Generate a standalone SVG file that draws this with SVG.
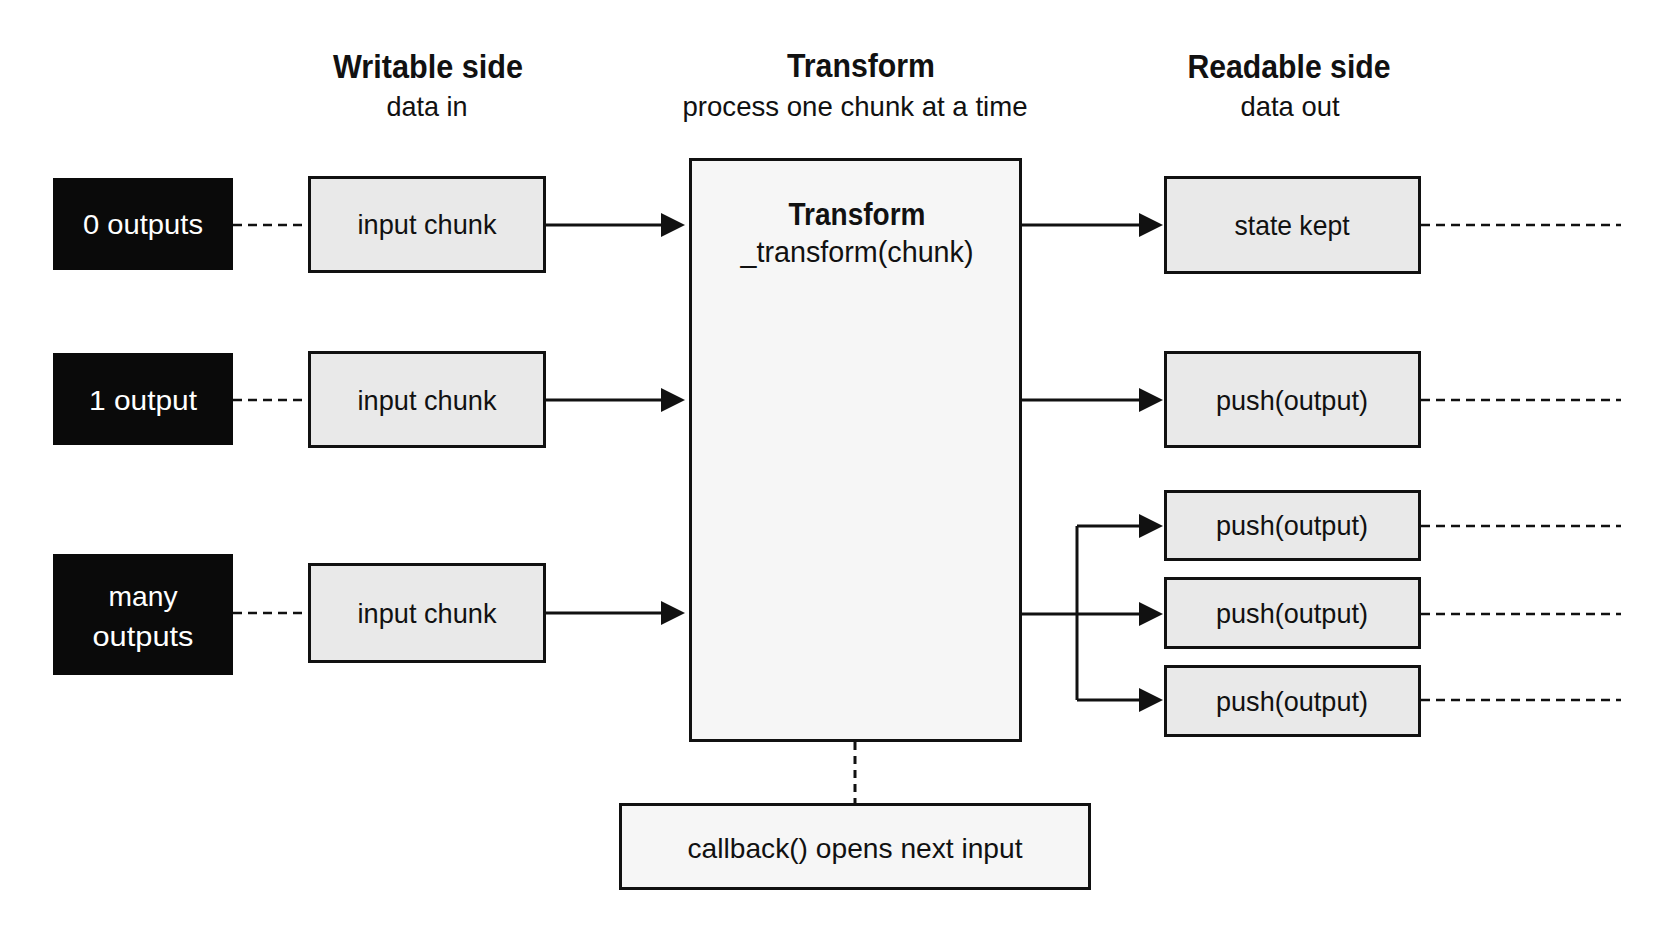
<svg xmlns="http://www.w3.org/2000/svg" width="1672" height="941" viewBox="0 0 1672 941">
<style>
text{font-family:"Liberation Sans",Arial,sans-serif;text-anchor:middle;fill:#111}
.title{font-size:33px;font-weight:bold}
.sub{font-size:28px}
.body{font-size:28px}
.wt{fill:#fff;font-size:28px}
.blk{fill:#0a0a0a}
.box{fill:#e9e9e9;stroke:#111;stroke-width:3}
.big{fill:#f6f6f6;stroke:#111;stroke-width:3}
.arr{fill:none;stroke:#111;stroke-width:3;marker-end:url(#ah)}
.ln{fill:none;stroke:#111;stroke-width:3}
.dash{fill:none;stroke:#111;stroke-width:2.5;stroke-dasharray:9 6}
</style>
<defs>
<marker id="ah" markerUnits="userSpaceOnUse" markerWidth="24" markerHeight="24" viewBox="0 0 24 24" refX="20" refY="12" orient="auto">
<path d="M0,0 L24,12 L0,24 z" fill="#111"/>
</marker>
</defs>
<rect width="1672" height="941" fill="#fff"/>

<g id="headers">
<text class="title" x="428" y="78" textLength="190" lengthAdjust="spacingAndGlyphs">Writable side</text>
<text class="sub" x="427" y="116" textLength="81" lengthAdjust="spacingAndGlyphs">data in</text>
<text class="title" x="861" y="77" textLength="148" lengthAdjust="spacingAndGlyphs">Transform</text>
<text class="sub" x="855" y="116" textLength="345" lengthAdjust="spacingAndGlyphs">process one chunk at a time</text>
<text class="title" x="1289" y="78" textLength="203" lengthAdjust="spacingAndGlyphs">Readable side</text>
<text class="sub" x="1290" y="116" textLength="99" lengthAdjust="spacingAndGlyphs">data out</text>
</g>

<g id="connectors">
<path class="dash" d="M233,225 H308"/>
<path class="dash" d="M233,400 H308"/>
<path class="dash" d="M233,613 H308"/>
<path class="arr" d="M546,225 H681"/>
<path class="arr" d="M546,400 H681"/>
<path class="arr" d="M546,613 H681"/>
<path class="arr" d="M1022,225 H1159"/>
<path class="arr" d="M1022,400 H1159"/>
<path class="arr" d="M1022,614 H1159"/>
<path class="ln" d="M1077,526 V700"/>
<path class="arr" d="M1077,526 H1159"/>
<path class="arr" d="M1077,700 H1159"/>
<path class="dash" d="M1421,225 H1621"/>
<path class="dash" d="M1421,400 H1621"/>
<path class="dash" d="M1421,526 H1621"/>
<path class="dash" d="M1421,614 H1621"/>
<path class="dash" d="M1421,700 H1621"/>
<path class="ln" d="M855,742 V803" stroke-dasharray="8 6"/>
</g>

<g id="label-0">
<rect class="blk" x="53" y="178" width="180" height="92"/>
<text class="wt" x="143" y="234" textLength="120" lengthAdjust="spacingAndGlyphs">0 outputs</text>
</g>
<g id="label-1">
<rect class="blk" x="53" y="353" width="180" height="92"/>
<text class="wt" x="143" y="410" textLength="108" lengthAdjust="spacingAndGlyphs">1 output</text>
</g>
<g id="label-many">
<rect class="blk" x="53" y="554" width="180" height="121"/>
<text class="wt" x="143" y="606" textLength="69" lengthAdjust="spacingAndGlyphs">many</text>
<text class="wt" x="143" y="646" textLength="101" lengthAdjust="spacingAndGlyphs">outputs</text>
</g>

<g id="input-1">
<rect class="box" x="309.5" y="177.5" width="235" height="94"/>
<text class="body" x="427" y="234" textLength="139" lengthAdjust="spacingAndGlyphs">input chunk</text>
</g>
<g id="input-2">
<rect class="box" x="309.5" y="352.5" width="235" height="94"/>
<text class="body" x="427" y="410" textLength="139" lengthAdjust="spacingAndGlyphs">input chunk</text>
</g>
<g id="input-3">
<rect class="box" x="309.5" y="564.5" width="235" height="97"/>
<text class="body" x="427" y="623" textLength="139" lengthAdjust="spacingAndGlyphs">input chunk</text>
</g>

<g id="transform">
<rect class="big" x="690.5" y="159.5" width="330" height="581"/>
<text class="title" x="857" y="225" style="font-size:31px" textLength="137" lengthAdjust="spacingAndGlyphs">Transform</text>
<text class="body" x="857" y="262" style="font-size:29px" textLength="233" lengthAdjust="spacingAndGlyphs">_transform(chunk)</text>
</g>

<g id="state-kept">
<rect class="box" x="1165.5" y="177.5" width="254" height="95"/>
<text class="body" x="1292" y="235" textLength="115" lengthAdjust="spacingAndGlyphs">state kept</text>
</g>
<g id="push-1">
<rect class="box" x="1165.5" y="352.5" width="254" height="94"/>
<text class="body" x="1292" y="410" textLength="152" lengthAdjust="spacingAndGlyphs">push(output)</text>
</g>
<g id="push-2">
<rect class="box" x="1165.5" y="491.5" width="254" height="68"/>
<text class="body" x="1292" y="535" textLength="152" lengthAdjust="spacingAndGlyphs">push(output)</text>
</g>
<g id="push-3">
<rect class="box" x="1165.5" y="578.5" width="254" height="69"/>
<text class="body" x="1292" y="623" textLength="152" lengthAdjust="spacingAndGlyphs">push(output)</text>
</g>
<g id="push-4">
<rect class="box" x="1165.5" y="666.5" width="254" height="69"/>
<text class="body" x="1292" y="711" textLength="152" lengthAdjust="spacingAndGlyphs">push(output)</text>
</g>

<g id="callback">
<rect class="big" x="620.5" y="804.5" width="469" height="84"/>
<text class="body" x="855" y="858" textLength="335" lengthAdjust="spacingAndGlyphs">callback() opens next input</text>
</g>
</svg>
